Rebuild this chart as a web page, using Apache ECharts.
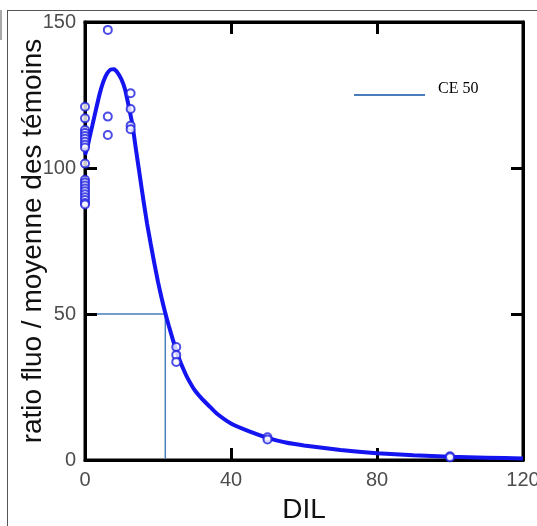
<!DOCTYPE html>
<html>
<head>
<meta charset="utf-8">
<script src="https://cdn.jsdelivr.net/npm/echarts@6/dist/echarts.min.js"></script>
<style>
html,body{margin:0;padding:0;background:#fff;}
#chart{width:537px;height:526px;}
</style>
</head>
<body>
<div id="chart"></div>
<script>
const obsX0 = 0, obsY0 = [121, 117, 113, 112, 111, 110, 109, 108, 107, 101.5, 96, 95, 94, 93, 92, 91, 90, 89, 88, 87.5];
const obsX1 = 6.25, obsY1 = [147.3, 117.6, 111.3];
const obsX2 = 12.5, obsY2 = [125.6, 120.2, 114.5, 113.3];
const obsX3 = 25, obsY3 = [38.7, 36, 33.6];
const obsX4 = 50, obsY4 = [7.8, 7.0];
const obsX5 = 100, obsY5 = [1.3, 0.9];

// Fitted curve
const fitX = [0, 0.5, 1, 1.5, 2, 3, 4, 5, 6, 7, 8, 9, 10, 11, 12, 13, 14, 15, 16, 17, 18, 19, 20, 21, 22, 23, 24, 25, 26, 27, 28, 30, 32, 34, 36, 40, 45, 50, 55, 60, 70, 80, 90, 100, 110, 120];
const fitY = [104.5, 106.5, 109, 111.8, 114.5, 120, 125.3, 129.5, 132.3, 133.7, 133.8, 132.5, 130.3, 126.8, 121, 114.8, 106, 97.5, 89, 81, 74, 67.3, 61, 55.4, 50.3, 45.8, 41.5, 37.5, 34, 31, 28.3, 24, 21, 18.5, 16, 12.5, 9.8, 7.6, 6.0, 5.0, 3.4, 2.3, 1.6, 1.1, 0.8, 0.5];

// CE 50
const ce50X = 22, ce50Y = 50;

// Axis ticks
const xMin = 0, xMax = 120, xStep = 40;
const yMin = 0, yMax = 150, yStep = 50;

const obsGroups = [[obsX0, obsY0], [obsX1, obsY1], [obsX2, obsY2], [obsX3, obsY3], [obsX4, obsY4], [obsX5, obsY5]];
const obsPts = [];
obsGroups.forEach(g => g[1].forEach(v => obsPts.push([g[0], v])));
const fitPts = fitX.map((x, i) => [x, fitY[i]]);
const cePts = [[0, ce50Y], [ce50X, ce50Y], [ce50X, 0]];

const chart = echarts.init(document.getElementById('chart'), null, {renderer: 'canvas'});

const baseAxis = {
  type: 'value',
  splitLine: {show: false},
  axisLine: {show: true, onZero: false, lineStyle: {color: '#000', width: 3}},
  axisTick: {show: true, inside: true, length: 12, lineStyle: {color: '#000', width: 3}},
  z: 3
};
const labelStyle = {fontSize: 20, color: '#4d4d4d', fontFamily: 'Liberation Sans, Arial, sans-serif'};

chart.setOption({
  animation: false,
  backgroundColor: '#fff',
  grid: {left: 85, right: 14, top: 22, bottom: 66, outerBoundsMode: 'none', containLabel: false,
         show: true, borderColor: '#000', borderWidth: 3, backgroundColor: 'transparent'},
  legend: {
    show: true,
    left: 349, top: 76,
    data: ['CE 50'],
    icon: 'rect',
    itemWidth: 71, itemHeight: 2,
    formatter: '{t|{name}}',
    textStyle: {
      fontFamily: 'Liberation Serif, Times New Roman, serif', fontSize: 16, color: '#000',
      rich: {t: {fontFamily: 'Liberation Serif, Times New Roman, serif', fontSize: 16, color: '#000', padding: [0, 0, 12, 8]}}
    }
  },
  xAxis: [
    Object.assign({}, baseAxis, {
      min: xMin, max: xMax, interval: xStep, position: 'bottom',
      axisLabel: Object.assign({margin: 10}, labelStyle),
      name: 'DIL', nameLocation: 'middle', nameGap: 36, nameMoveOverlap: false,
      nameTextStyle: {fontSize: 28, color: '#111', fontFamily: 'Liberation Sans, Arial, sans-serif'}
    }),
    Object.assign({}, baseAxis, {
      min: xMin, max: xMax, interval: xStep, position: 'top',
      axisLabel: {show: false}
    })
  ],
  yAxis: [
    Object.assign({}, baseAxis, {
      min: yMin, max: yMax, interval: yStep, position: 'left',
      axisLabel: Object.assign({margin: 9}, labelStyle),
      name: 'ratio fluo / moyenne des témoins', nameLocation: 'middle', nameGap: 38, nameMoveOverlap: false,
      nameTextStyle: {fontSize: 28, color: '#111', fontFamily: 'Liberation Sans, Arial, sans-serif'}
    }),
    Object.assign({}, baseAxis, {
      min: yMin, max: yMax, interval: yStep, position: 'right',
      axisLabel: {show: false}
    })
  ],
  graphic: [
    {type: 'line', shape: {x1: 7.5, y1: 10, x2: 7.5, y2: 526}, style: {stroke: '#555', lineWidth: 1}, silent: true},
    {type: 'line', shape: {x1: 7, y1: 10.5, x2: 537, y2: 10.5}, style: {stroke: '#555', lineWidth: 1}, silent: true},
    {type: 'line', shape: {x1: 1, y1: 10, x2: 1, y2: 40}, style: {stroke: '#555', lineWidth: 1}, silent: true}
  ],
  series: [
    {
      name: 'CE 50', type: 'line', data: cePts, symbol: 'none', z: 2,
      color: '#4a7ebb',
      lineStyle: {color: '#4a7ebb', width: 1.5}
    },
    {
      name: 'fit', type: 'line', data: fitPts, symbol: 'none', smooth: 0.15, z: 4,
      color: '#1414f0',
      lineStyle: {color: '#1414f0', width: 4}
    },
    {
      name: 'obs', type: 'scatter', data: obsPts, symbol: 'emptyCircle', symbolSize: 8, z: 5,
      itemStyle: {color: '#1e1ee0', borderColor: '#1e1ee0', borderWidth: 3}
    }
  ]
});
</script>
</body>
</html>
